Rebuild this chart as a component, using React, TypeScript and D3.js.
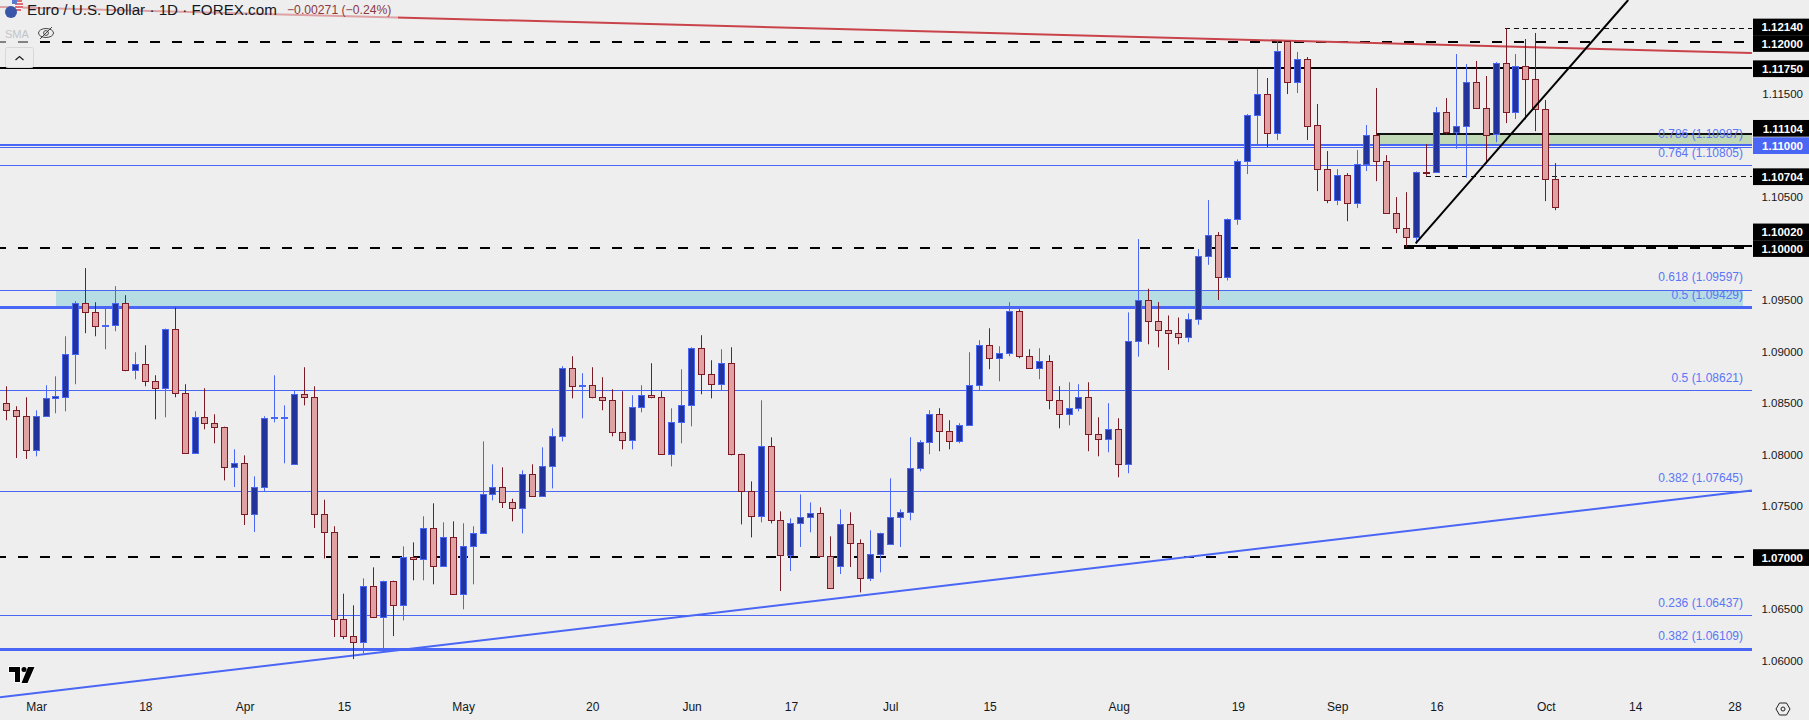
import { useEffect, useRef } from "react";
import * as d3 from "d3";

const WIDTH = 1809;
const HEIGHT = 720;
const PLOT_RIGHT = 1752;
const BG = "#eeeeee";
const BLUE = "#4a66f5";
const FONT = "'Liberation Sans', Arial, sans-serif";

// Daily EUR/USD bars
const opens = [
  1.08503, 1.08435, 1.08377, 1.08043, 1.08377, 1.08549, 1.08558, 1.0898, 1.09476, 1.09388,
  1.09259, 1.09262, 1.09476, 1.08824, 1.08883, 1.08717, 1.08649, 1.09223, 1.08601, 1.08017,
  1.08367, 1.08309, 1.0827, 1.07881, 1.0792, 1.07424, 1.07687, 1.08358, 1.08364, 1.0791,
  1.08591, 1.08562, 1.07424, 1.0725, 1.06404, 1.06235, 1.0618, 1.06725, 1.0642, 1.06773,
  1.06537, 1.07003, 1.06987, 1.07289, 1.06916, 1.07201, 1.06644, 1.07114, 1.07236, 1.07619,
  1.07683, 1.07541, 1.07482, 1.07813, 1.07599, 1.07891, 1.08182, 1.08844, 1.08669, 1.08678,
  1.08562, 1.08532, 1.08221, 1.08144, 1.08464, 1.08581, 1.08562, 1.08007, 1.08319, 1.08484,
  1.09038, 1.08785, 1.08688, 1.08892, 1.08007, 1.07648, 1.07405, 1.08085, 1.07366, 1.07026,
  1.07337, 1.07395, 1.07434, 1.07016, 1.06919, 1.07328, 1.07143, 1.06799, 1.07036, 1.0713,
  1.07396, 1.07441, 1.07872, 1.08125, 1.08397, 1.08232, 1.08135, 1.08287, 1.08679, 1.09068,
  1.08938, 1.0899, 1.09389, 1.08961, 1.08841, 1.08912, 1.08533, 1.08397, 1.08455, 1.08562,
  1.08203, 1.08151, 1.08251, 1.07908, 1.091, 1.095, 1.093, 1.0921, 1.0918, 1.0914,
  1.0932, 1.09923, 1.10127, 1.09725, 1.10283, 1.10847, 1.11294, 1.11498, 1.11119, 1.12017,
  1.11615, 1.11838, 1.11197, 1.10769, 1.10467, 1.1071, 1.10438, 1.10817, 1.11099, 1.10847,
  1.10341, 1.10195, 1.10117, 1.10743, 1.10739, 1.11323, 1.11135, 1.11187, 1.11614, 1.11362,
  1.11109, 1.11799, 1.11323, 1.1177, 1.11644, 1.11352, 1.10671,
];
const closes = [
  1.08435, 1.08377, 1.08043, 1.08377, 1.08552, 1.08565, 1.0898, 1.09476, 1.09388, 1.09252,
  1.09262, 1.09476, 1.08824, 1.08883, 1.08717, 1.08649, 1.09223, 1.08601, 1.08017, 1.08367,
  1.08309, 1.0827, 1.07881, 1.0792, 1.07424, 1.07687, 1.08358, 1.08367, 1.08367, 1.08591,
  1.08562, 1.07424, 1.07249, 1.06404, 1.06239, 1.0618, 1.06725, 1.0642, 1.06773, 1.06537,
  1.07003, 1.06987, 1.07289, 1.06916, 1.07201, 1.06644, 1.07114, 1.0724, 1.07619, 1.07683,
  1.07541, 1.07482, 1.07813, 1.07599, 1.07891, 1.08182, 1.08844, 1.08669, 1.08678, 1.08558,
  1.08532, 1.08218, 1.08144, 1.08464, 1.08581, 1.08562, 1.08007, 1.08319, 1.08484, 1.09038,
  1.08785, 1.08688, 1.08892, 1.08007, 1.07644, 1.07405, 1.08085, 1.07366, 1.07026, 1.07337,
  1.07395, 1.07434, 1.07016, 1.06705, 1.07328, 1.0714, 1.06799, 1.07036, 1.0724, 1.07396,
  1.07444, 1.07872, 1.08125, 1.08397, 1.08229, 1.08135, 1.0829, 1.08679, 1.09068, 1.08938,
  1.0899, 1.09389, 1.08957, 1.08841, 1.08912, 1.08533, 1.08397, 1.08455, 1.08562, 1.08199,
  1.08151, 1.08251, 1.07908, 1.091, 1.095, 1.093, 1.0921, 1.0918, 1.0914, 1.0932,
  1.09926, 1.10127, 1.09725, 1.10283, 1.10847, 1.11294, 1.11498, 1.11119, 1.11916, 1.11615,
  1.11838, 1.11193, 1.10769, 1.10467, 1.1071, 1.10438, 1.10817, 1.11099, 1.10847, 1.10341,
  1.10195, 1.10117, 1.10739, 1.10736, 1.11323, 1.11135, 1.11187, 1.11614, 1.11362, 1.11106,
  1.11799, 1.11323, 1.1177, 1.11644, 1.11352, 1.10671, 1.10406,
];
const highs = [
  1.08662, 1.08468, 1.08555, 1.08429, 1.08672, 1.08759, 1.09148, 1.09489, 1.0981, 1.09479,
  1.09434, 1.09635, 1.09547, 1.08993, 1.09061, 1.08769, 1.09223, 1.09427, 1.08682, 1.08419,
  1.08643, 1.0839, 1.0827, 1.0805, 1.07991, 1.07787, 1.08371, 1.08769, 1.08477, 1.08617,
  1.08847, 1.08662, 1.0756, 1.07302, 1.06647, 1.06534, 1.06796, 1.06903, 1.06773, 1.06773,
  1.07107, 1.07146, 1.07399, 1.07525, 1.07341, 1.0735, 1.07331, 1.07302, 1.08127, 1.07904,
  1.07875, 1.0757, 1.07845, 1.07904, 1.08069, 1.08254, 1.08857, 1.08954, 1.08789, 1.08847,
  1.0875, 1.08633, 1.08614, 1.08575, 1.08672, 1.08886, 1.08614, 1.08448, 1.08827, 1.09041,
  1.09158, 1.08915, 1.09022, 1.09041, 1.08007, 1.07738, 1.08526, 1.08166, 1.07447, 1.07379,
  1.07612, 1.07534, 1.07486, 1.07204, 1.07467, 1.07438, 1.07175, 1.07263, 1.0724, 1.07768,
  1.07467, 1.08167, 1.08138, 1.0843, 1.08449, 1.08332, 1.08303, 1.08993, 1.0911, 1.09226,
  1.09051, 1.09479, 1.09411, 1.09022, 1.09032, 1.08964, 1.08663, 1.08701, 1.08682, 1.08701,
  1.08361, 1.08498, 1.08352, 1.0938, 1.10092, 1.0961, 1.0948, 1.0935, 1.0933, 1.0937,
  1.09995, 1.10471, 1.1016, 1.10292, 1.10866, 1.11307, 1.11744, 1.11657, 1.12017, 1.12017,
  1.1191, 1.11861, 1.11404, 1.10947, 1.10772, 1.10733, 1.10957, 1.112, 1.1156, 1.10908,
  1.105, 1.10548, 1.10749, 1.11015, 1.11375, 1.11462, 1.1189, 1.11793, 1.11822, 1.11676,
  1.11812, 1.1214, 1.1189, 1.12036, 1.12094, 1.11443, 1.1083,
];
const lows = [
  1.08332, 1.07965, 1.07956, 1.07982, 1.08377, 1.084, 1.08419, 1.08682, 1.09178, 1.09148,
  1.09022, 1.09197, 1.08808, 1.0873, 1.08662, 1.08341, 1.08361, 1.08555, 1.08017, 1.08017,
  1.08244, 1.08108, 1.07748, 1.07683, 1.07314, 1.07246, 1.07641, 1.08312, 1.07914, 1.0791,
  1.08477, 1.07285, 1.0699, 1.06226, 1.06206, 1.06012, 1.06064, 1.0641, 1.06112, 1.06235,
  1.06388, 1.06777, 1.06777, 1.06738, 1.06906, 1.06644, 1.06495, 1.06738, 1.07236, 1.07554,
  1.07479, 1.0735, 1.07233, 1.07599, 1.07599, 1.0767, 1.08127, 1.08545, 1.08351, 1.08545,
  1.08429, 1.08176, 1.0805, 1.0805, 1.08409, 1.08545, 1.08007, 1.07884, 1.08108, 1.08273,
  1.08584, 1.08545, 1.08623, 1.07991, 1.0732, 1.07194, 1.0734, 1.0733, 1.06673, 1.06867,
  1.07101, 1.07243, 1.07016, 1.06705, 1.06838, 1.06906, 1.0666, 1.0677, 1.06854, 1.0713,
  1.07101, 1.0736, 1.07836, 1.08002, 1.08031, 1.0805, 1.08109, 1.08277, 1.0862, 1.08828,
  1.08711, 1.08954, 1.08935, 1.08841, 1.08731, 1.08439, 1.08254, 1.08283, 1.08419, 1.08031,
  1.07982, 1.08021, 1.07778, 1.07817, 1.0895, 1.0907, 1.0904, 1.0882, 1.0907, 1.0909,
  1.0926, 1.09842, 1.095, 1.0969, 1.10231, 1.10723, 1.11015, 1.10986, 1.11054, 1.11501,
  1.11511, 1.11054, 1.10558, 1.10441, 1.10422, 1.10266, 1.10393, 1.10753, 1.10655, 1.10341,
  1.1015, 1.10017, 1.10049, 1.10707, 1.10739, 1.11112, 1.1097, 1.10688, 1.11362, 1.10827,
  1.11034, 1.11219, 1.11258, 1.11255, 1.11141, 1.10461, 1.10373,
];

// Time axis: bar index of each label
const dateTickBars = [3, 14, 24, 34, 46, 59, 69, 79, 89, 99, 112, 124, 134, 144, 155, 164, 174];
const dateTickLabels = ["Mar", "18", "Apr", "15", "May", "20", "Jun", "17", "Jul", "15", "Aug", "19", "Sep", "16", "Oct", "14", "28"];

// Price axis
const priceTicks = [1.115, 1.105, 1.095, 1.09, 1.085, 1.08, 1.075, 1.065, 1.06];
const tagPrices = [1.1214, 1.12, 1.1175, 1.11104, 1.10704, 1.1002, 1.1, 1.07];
const tagNudges = [-1.3, 0.8, 0.3, -6.6, 0.6, -14.6, 0, 0.2]; // labels pushed apart, as the chart does

// Horizontal levels
const dashedLevels = [1.12, 1.1, 1.07];
const thinBlueLevels = [1.10987, 1.10805, 1.09597, 1.08621, 1.07645, 1.06437];
const thickBlueLevels = [1.09429, 1.06109];
const fibPrices = [1.10987, 1.10805, 1.09597, 1.09429, 1.08621, 1.07645, 1.06437, 1.06109];
const fibRatios = ["0.786", "0.764", "0.618", "0.5", "0.5", "0.382", "0.236", "0.382"];

// Trend lines as [bar index, price]
const blueTrend: [number, number][] = [[-0.634, 1.05642], [175.75, 1.0765]];
const redTrend: [number, number][] = [[-0.634, 1.12347], [175.75, 1.119]];
const blackTrend: [number, number][] = [[141.9, 1.1005], [163.3, 1.12415]];

export default function App() {
  const svgRef = useRef<SVGSVGElement>(null);

  useEffect(() => {
    document.body.style.margin = "0";
    if (!svgRef.current) return;
    const svg = d3.select(svgRef.current);
    svg.selectAll("*").remove();

    const x = d3.scaleLinear().domain([0, 174]).range([6.3, 6.3 + 174 * 9.932]);
    const y = d3.scaleLinear().domain([1.06, 1.12]).range([660.3, 42.7]);
    const crisp = (v: number) => Math.round(v) + 0.5;
    const barX = (i: number) => Math.floor(x(i)) + 0.5;
    // Horizontal rules sit on whole pixel rows, like the chart's own
    const rowY = (price: number, width: number) =>
      width % 2 === 0 ? Math.floor(y(price)) : Math.floor(y(price) + 0.2) + 0.5;

    svg.append("rect").attr("width", WIDTH).attr("height", HEIGHT).attr("fill", BG);

    const hline = (price: number, x1: number, x2: number, color: string, width: number, dash?: string, offset?: number) =>
      svg.append("line")
        .attr("x1", x1).attr("x2", x2)
        .attr("y1", rowY(price, width)).attr("y2", rowY(price, width))
        .attr("stroke", color).attr("stroke-width", width)
        .attr("stroke-dasharray", dash ?? null)
        .attr("stroke-dashoffset", offset ?? null);

    // Zones
    svg.append("rect")
      .attr("x", 56).attr("width", 1743 - 56)
      .attr("y", y(1.09597)).attr("height", y(1.09429) - y(1.09597))
      .attr("fill", "#b6dce4");
    svg.append("rect")
      .attr("x", 1376).attr("width", PLOT_RIGHT - 1376)
      .attr("y", y(1.11104)).attr("height", y(1.11) - y(1.11104))
      .attr("fill", "#c1d8b7");

    // Levels
    thinBlueLevels.forEach((p) => hline(p, 0, PLOT_RIGHT, BLUE, 1));
    thickBlueLevels.forEach((p) => hline(p, 0, PLOT_RIGHT, BLUE, 3));
    hline(1.11, 0, PLOT_RIGHT, BLUE, 2);
    dashedLevels.forEach((p) => hline(p, 0, PLOT_RIGHT, "#000", 2, "10 12", 4));
    hline(1.1175, 0, PLOT_RIGHT, "#000", 2);
    hline(1.1002, 1404, PLOT_RIGHT, "#000", 2);
    hline(1.11104, 1376, PLOT_RIGHT, "#111", 2);
    hline(1.1214, 1505, PLOT_RIGHT, "#111", 1, "5 4");
    hline(1.10704, 1426, PLOT_RIGHT, "#111", 1, "5 4");

    const trend = d3.line<[number, number]>().x((d) => x(d[0])).y((d) => y(d[1]));
    svg.append("path").attr("d", trend(blueTrend)).attr("fill", "none").attr("stroke", BLUE).attr("stroke-width", 2);
    svg.append("path").attr("d", trend(redTrend)).attr("fill", "none").attr("stroke", "#c9434b").attr("stroke-width", 2);

    // Candles
    const bars = d3.range(opens.length);
    const up = (i: number) => closes[i] >= opens[i];
    const candle = svg.selectAll("g.bar").data(bars).join("g").attr("class", "bar");
    candle.append("line")
      .attr("x1", barX).attr("x2", barX)
      .attr("y1", (i) => y(highs[i])).attr("y2", (i) => y(lows[i]))
      .attr("stroke", (i) => (up(i) ? BLUE : "#7a1a24"));
    candle.append("rect")
      .attr("x", (i) => barX(i) - 3).attr("width", 6)
      .attr("y", (i) => crisp(y(Math.max(opens[i], closes[i]))))
      .attr("height", (i) => Math.max(1, crisp(y(Math.min(opens[i], closes[i]))) - crisp(y(Math.max(opens[i], closes[i])))))
      .attr("fill", (i) => (up(i) ? "#22339c" : "#e0a1a3"))
      .attr("stroke", (i) => (up(i) ? BLUE : "#7a1a24"));

    svg.append("path").attr("d", trend(blackTrend)).attr("fill", "none").attr("stroke", "#000").attr("stroke-width", 2);

    // Fib labels
    svg.selectAll("text.fib").data(fibPrices).join("text")
      .attr("class", "fib")
      .attr("x", 1743).attr("y", (p) => y(p) - 12.7)
      .attr("text-anchor", "end").attr("dominant-baseline", "central")
      .attr("font-family", FONT).attr("font-size", 12).attr("fill", "#5a76f5")
      .text((p, i) => `${fibRatios[i]} (${p.toFixed(5)})`);

    // Price axis
    svg.selectAll("text.tick").data(priceTicks).join("text")
      .attr("class", "tick")
      .attr("x", 1803).attr("y", (p) => y(p) + 0.3)
      .attr("text-anchor", "end").attr("dominant-baseline", "central")
      .attr("font-family", FONT).attr("font-size", 11.5).attr("fill", "#131722")
      .text((p) => p.toFixed(5));

    const tag = svg.selectAll("g.tag").data(tagPrices).join("g").attr("class", "tag");
    tag.append("rect")
      .attr("x", 1753).attr("width", 56).attr("height", 16.7)
      .attr("y", (p, i) => y(p) + tagNudges[i] - 8.35)
      .attr("fill", "#000");
    tag.append("text")
      .attr("x", 1803).attr("y", (p, i) => y(p) + tagNudges[i] + 0.5)
      .attr("text-anchor", "end").attr("dominant-baseline", "central")
      .attr("font-family", FONT).attr("font-size", 11.5).attr("font-weight", "bold").attr("fill", "#fff")
      .text((p) => p.toFixed(5));
    svg.append("rect").attr("x", 1753).attr("width", 56).attr("height", 16.7).attr("y", y(1.11) - 8.35).attr("fill", BLUE);
    svg.append("text")
      .attr("x", 1803).attr("y", y(1.11) + 0.5)
      .attr("text-anchor", "end").attr("dominant-baseline", "central")
      .attr("font-family", FONT).attr("font-size", 11.5).attr("font-weight", "bold").attr("fill", "#fff")
      .text((1.11).toFixed(5));

    // Time axis
    const axisG = svg.append("g").attr("transform", "translate(0,697)");
    axisG.call(
      d3.axisBottom(x)
        .tickValues(dateTickBars)
        .tickSize(0)
        .tickPadding(5)
        .tickFormat((_, i) => dateTickLabels[i])
    );
    axisG.select(".domain").remove();
    axisG.selectAll("text").attr("font-family", FONT).attr("font-size", 12).attr("fill", "#131722");

    // Legend: translucent backing fades what runs under it
    svg.append("rect").attr("x", 0).attr("y", 0).attr("width", 398).attr("height", 20).attr("fill", BG).attr("opacity", 0.55);
    svg.append("rect").attr("x", 0).attr("y", 25).attr("width", 30).attr("height", 22).attr("fill", BG).attr("opacity", 0.55);

    svg.append("circle").attr("cx", 17).attr("cy", 6).attr("r", 6).attr("fill", "#f4f4f4");
    svg.append("path").attr("d", "M14 1h8M15 4h8M15 7h8M15 10h6").attr("stroke", "#d8414a").attr("stroke-width", 1.4).attr("fill", "none");
    svg.append("rect").attr("x", 12).attr("y", 0).attr("width", 5).attr("height", 4).attr("fill", "#5a7bd0");
    svg.append("circle").attr("cx", 11).attr("cy", 12).attr("r", 6).attr("fill", "#3a56a8");

    svg.append("text")
      .attr("x", 27).attr("y", 9.5)
      .attr("dominant-baseline", "central")
      .attr("font-family", FONT).attr("font-size", 15.2).attr("fill", "#131722")
      .text("Euro / U.S. Dollar · 1D · FOREX.com");
    svg.append("text")
      .attr("x", 287).attr("y", 9.8)
      .attr("dominant-baseline", "central")
      .attr("font-family", FONT).attr("font-size", 12.2).attr("fill", "#8a3a42")
      .text("−0.00271 (−0.24%)");
    svg.append("text")
      .attr("x", 5).attr("y", 33.5)
      .attr("dominant-baseline", "central")
      .attr("font-family", FONT).attr("font-size", 11).attr("fill", "#c4c4c8")
      .text("SMA");

    // Eye-off icon
    svg.append("ellipse").attr("cx", 46).attr("cy", 33).attr("rx", 7.5).attr("ry", 4.5).attr("fill", "none").attr("stroke", "#333").attr("stroke-width", 0.9);
    svg.append("circle").attr("cx", 46).attr("cy", 33).attr("r", 2.4).attr("fill", "none").attr("stroke", "#333").attr("stroke-width", 0.9);
    svg.append("line").attr("x1", 40).attr("y1", 39).attr("x2", 52).attr("y2", 27).attr("stroke", "#333").attr("stroke-width", 0.9);

    // Collapse button
    svg.append("rect").attr("x", 5.5).attr("y", 47.5).attr("width", 28).attr("height", 20).attr("rx", 2).attr("fill", BG).attr("stroke", "#d8d8da");
    svg.append("path").attr("d", "M15.5 60l4 -3.5l4 3.5").attr("fill", "none").attr("stroke", "#222").attr("stroke-width", 1.3);

    // Watermark logo
    svg.append("path")
      .attr("d", "M9 667h11v15h-5v-10h-6zM28 667h6.5l-7 16h-6z")
      .attr("fill", "#000").attr("stroke", "#fff").attr("stroke-width", 1.5).attr("paint-order", "stroke");
    svg.append("circle").attr("cx", 24).attr("cy", 669.5).attr("r", 2.5).attr("fill", "#000");

    // Settings icon
    svg.append("path")
      .attr("d", "M1776 709l3.5 -6h7l3.5 6l-3.5 6h-7z")
      .attr("fill", "none").attr("stroke", "#222").attr("stroke-width", 1);
    svg.append("circle").attr("cx", 1783).attr("cy", 709).attr("r", 2).attr("fill", "none").attr("stroke", "#222").attr("stroke-width", 1);

    return () => {
      svg.selectAll("*").remove();
    };
  }, []);

  return (
    <svg
      ref={svgRef}
      width={WIDTH}
      height={HEIGHT}
      style={{ position: "absolute", left: 0, top: 0, display: "block" }}
    />
  );
}
